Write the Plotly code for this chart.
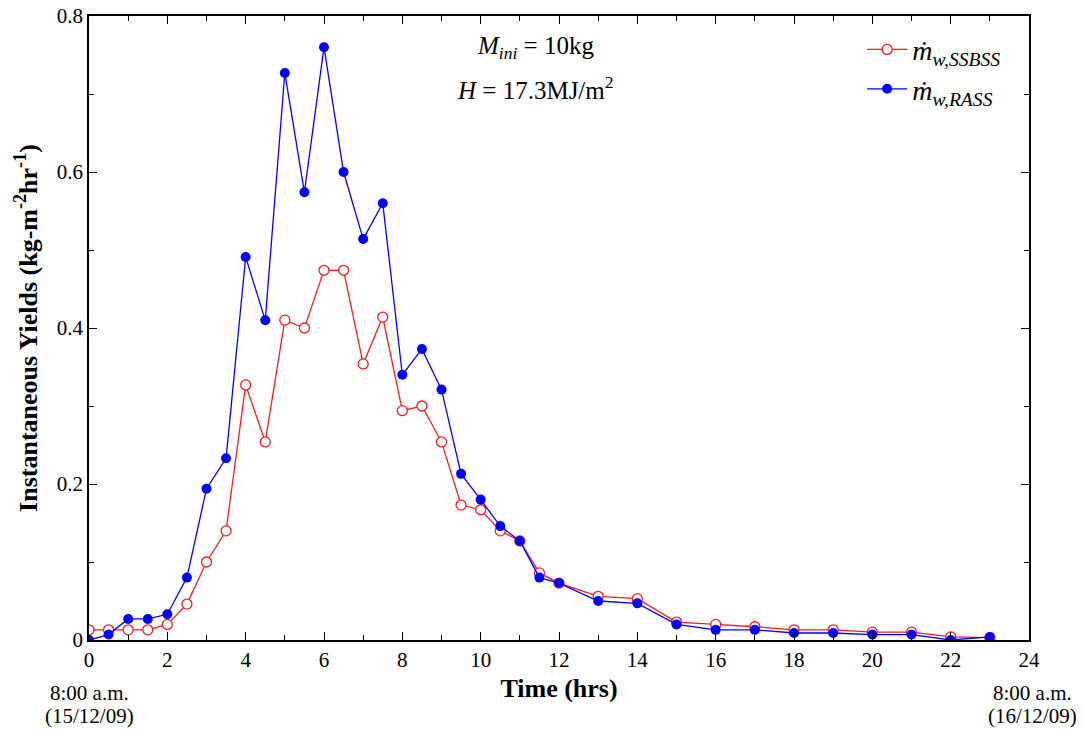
import plotly.graph_objects as go

time_hrs = [0, 0.5, 1, 1.5, 2, 2.5, 3, 3.5, 4, 4.5, 5, 5.5, 6, 6.5, 7, 7.5, 8, 8.5, 9, 9.5,
            10, 10.5, 11, 11.5, 12, 13, 14, 15, 16, 17, 18, 19, 20, 21, 22, 23]
yield_ssbss = [0.013, 0.013, 0.013, 0.013, 0.020, 0.046, 0.100, 0.140, 0.327, 0.254, 0.410, 0.400,
               0.474, 0.474, 0.354, 0.414, 0.294, 0.300, 0.254, 0.173, 0.167, 0.140, 0.127, 0.086,
               0.073, 0.056, 0.053, 0.023, 0.020, 0.017, 0.013, 0.013, 0.010, 0.010, 0.004, 0.003]
yield_rass = [0.000, 0.007, 0.027, 0.027, 0.033, 0.080, 0.194, 0.233, 0.491, 0.410, 0.727, 0.574,
              0.760, 0.600, 0.514, 0.560, 0.340, 0.373, 0.321, 0.213, 0.180, 0.146, 0.127, 0.080,
              0.073, 0.050, 0.047, 0.020, 0.013, 0.013, 0.009, 0.009, 0.007, 0.007, 0.000, 0.004]
x_ticks = [0, 2, 4, 6, 8, 10, 12, 14, 16, 18, 20, 22, 24]
y_ticks = [0, 0.2, 0.4, 0.6, 0.8]
y_tick_text = ["0", "0.2", "0.4", "0.6", "0.8"]
date_labels = [("8:00 a.m.", "(15/12/09)"), ("8:00 a.m.", "(16/12/09)")]

FONT = "Liberation Serif"

fig = go.Figure()
fig.add_trace(go.Scatter(
    x=time_hrs, y=yield_ssbss, mode="lines+markers",
    name="<i>ṁ<sub>w,SSBSS</sub></i>",
    line=dict(color="#ff1a1a", width=1.3),
    marker=dict(symbol="circle", size=10, color="white", line=dict(color="#ff1a1a", width=1.3)),
))
fig.add_trace(go.Scatter(
    x=time_hrs, y=yield_rass, mode="lines+markers",
    name="<i>ṁ<sub>w,RASS</sub></i>",
    line=dict(color="#0000ff", width=1.3),
    marker=dict(symbol="circle", size=10, color="#0000ff", line=dict(color="#0000ff", width=0)),
))

axis_common = dict(
    showline=True, linecolor="black", linewidth=1.5, mirror="allticks",
    ticks="inside", ticklen=8, tickwidth=1, tickcolor="black",
    showgrid=False, zeroline=False, automargin=False, ticklabeloverflow="allow",
    tickfont=dict(family=FONT, size=21, color="black"),
)

fig.update_layout(
    width=1076, height=723,
    margin=dict(l=81, r=55, t=8, b=91),
    paper_bgcolor="white", plot_bgcolor="white",
    font=dict(family=FONT, color="black"),
    xaxis=dict(
        range=[0, 24], tickvals=x_ticks,
        minor=dict(tickvals=list(range(1, 24, 2)), ticks="inside", ticklen=5, tickcolor="black"),
        title=dict(text="<b>Time (hrs)</b>", font=dict(family=FONT, size=26), standoff=8),
        **axis_common,
    ),
    yaxis=dict(
        range=[0, 0.8], tickvals=y_ticks, ticktext=y_tick_text,
        minor=dict(tickvals=[0.1, 0.3, 0.5, 0.7], ticks="inside", ticklen=5, tickcolor="black"),
        title=dict(text="<b>Instantaneous Yields (kg-m<sup>-2</sup>hr<sup>-1</sup>)</b>",
                   font=dict(family=FONT, size=26), standoff=12),
        **axis_common,
    ),
    legend=dict(
        x=0.8225, y=0.986, xanchor="left", yanchor="top",
        bgcolor="rgba(0,0,0,0)", borderwidth=0,
        font=dict(family=FONT, size=28, color="black"),
        tracegroupgap=0, itemwidth=40,
    ),
    showlegend=True,
)

fig.add_annotation(x=0.475, y=0.950, xref="paper", yref="paper", showarrow=False,
                   text="<i>M<sub>ini</sub></i> = 10kg", font=dict(family=FONT, size=25),
                   xanchor="center", yanchor="middle")
fig.add_annotation(x=0.475, y=0.885, xref="paper", yref="paper", showarrow=False,
                   text="<i>H</i> = 17.3MJ/m<sup>2</sup>", font=dict(family=FONT, size=25),
                   xanchor="center", yanchor="middle")
for xpos, (time_txt, date_txt) in zip([0.0, 1.0042], date_labels):
    fig.add_annotation(x=xpos, y=-0.085, xref="paper", yref="paper", showarrow=False,
                       text=time_txt, font=dict(family=FONT, size=21),
                       xanchor="center", yanchor="middle")
    fig.add_annotation(x=xpos, y=-0.121, xref="paper", yref="paper", showarrow=False,
                       text=date_txt, font=dict(family=FONT, size=21),
                       xanchor="center", yanchor="middle")

fig.write_html("out.html")
